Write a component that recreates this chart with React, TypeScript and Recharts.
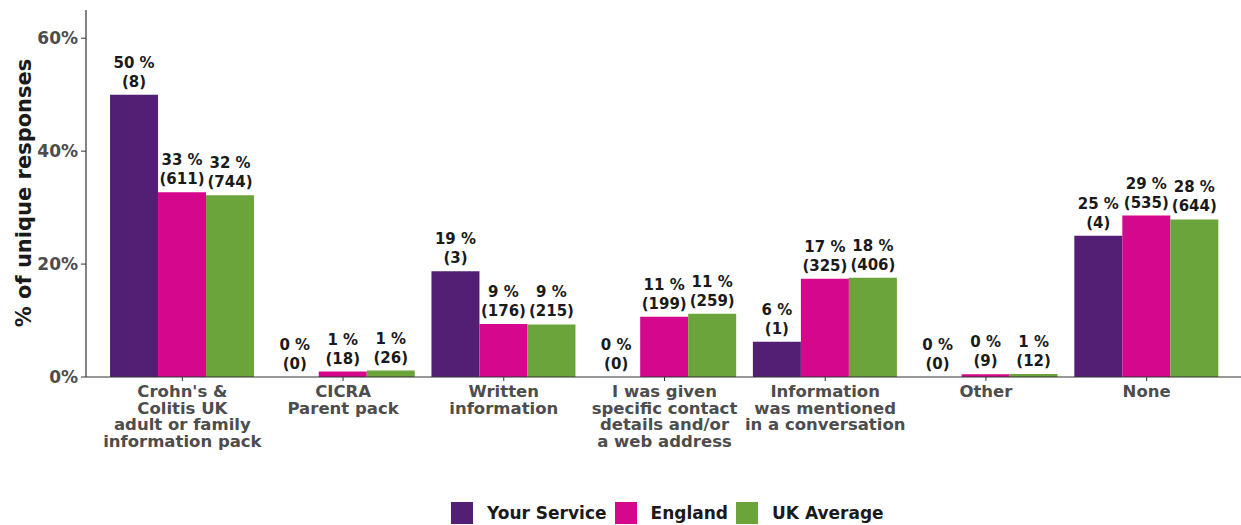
import React from "react";
import { BarChart, Bar, XAxis, YAxis, Legend, LabelList } from "recharts";

const categories = [
  "Crohn's &\nColitis UK\nadult or family\ninformation pack",
  "CICRA\nParent pack",
  "Written\ninformation",
  "I was given\nspecific contact\ndetails and/or\na web address",
  "Information\nwas mentioned\nin a conversation",
  "Other",
  "None",
];

const yourServicePct = [50, 0, 18.75, 0, 6.25, 0, 25];
const yourServiceN = [8, 0, 3, 0, 1, 0, 4];
const englandPct = [32.7, 0.96, 9.4, 10.65, 17.4, 0.48, 28.6];
const englandN = [611, 18, 176, 199, 325, 9, 535];
const ukPct = [32.2, 1.13, 9.3, 11.2, 17.6, 0.52, 27.9];
const ukN = [744, 26, 215, 259, 406, 12, 644];

const yTicks = [0, 20, 40, 60];

const PURPLE = "#521f75";
const PINK = "#d5078c";
const GREEN = "#6ba43a";
const FONT = "DejaVu Sans";

const data = categories.map((c, i) => ({
  category: c,
  yours: yourServicePct[i],
  yoursN: yourServiceN[i],
  england: englandPct[i],
  englandN: englandN[i],
  uk: ukPct[i],
  ukN: ukN[i],
}));

// two-line label above each bar: "NN %" then "(count)"
const PctLabel = (props: any) => {
  const { x, y, width, value } = props;
  return (
    <text x={x + width / 2} y={y - 27} textAnchor="middle" fontFamily={FONT} fontWeight="bold" fontSize={15} fill="#1a1a1a">
      {`${Math.round(value)} %`}
    </text>
  );
};

const CountLabel = (props: any) => {
  const { x, y, width, value } = props;
  return (
    <text x={x + width / 2} y={y - 8} textAnchor="middle" fontFamily={FONT} fontWeight="bold" fontSize={15} fill="#1a1a1a">
      {`(${value})`}
    </text>
  );
};

const XTick = (props: any) => {
  const { x, y, payload } = props;
  const lines = String(payload.value).split("\n");
  return (
    <text x={x} y={y} textAnchor="middle" fontFamily={FONT} fontWeight="bold" fontSize={16.5} fill="#4d4d4d">
      {lines.map((l, i) => (
        <tspan key={i} x={x} dy={i === 0 ? 14 : 16.7}>
          {l}
        </tspan>
      ))}
    </text>
  );
};

const legendItems = [
  { name: "Your Service", color: PURPLE },
  { name: "England", color: PINK },
  { name: "UK Average", color: GREEN },
];

const LegendContent = () => (
  <div style={{ display: "flex", alignItems: "center", paddingLeft: 451, height: 24 }}>
    {legendItems.map((it) => (
      <div key={it.name} style={{ display: "flex", alignItems: "center", marginRight: 8 }}>
        <div style={{ width: 22, height: 22, background: it.color, marginRight: 14 }} />
        <span style={{ fontFamily: FONT, fontWeight: "bold", fontSize: 17, color: "#1a1a1a" }}>{it.name}</span>
      </div>
    ))}
  </div>
);

export default function App() {
  return (
    <div style={{ position: "absolute", left: 0, top: 0, width: 1241, height: 525, overflow: "hidden", background: "#fff" }}>
      <BarChart
        width={1243}
        height={525}
        data={data}
        margin={{ top: 10, right: 0, bottom: 0, left: 0 }}
        barCategoryGap="5%"
        barGap={0}
      >
        <XAxis
          dataKey="category"
          interval={0}
          height={124}
          padding={{ left: 16, right: 16 }}
          axisLine={{ stroke: "#333", strokeWidth: 1.2 }}
          tickLine={{ stroke: "#333" }}
          tickSize={4}
          tickMargin={2}
          tick={<XTick />}
        />
        <YAxis
          width={86}
          domain={[0, 65]}
          ticks={yTicks}
          tickFormatter={(v) => `${v}%`}
          axisLine={{ stroke: "#333", strokeWidth: 1.2 }}
          tickLine={{ stroke: "#333" }}
          tickSize={5}
          tickMargin={3}
          tick={{ fill: "#4d4d4d", fontSize: 17, fontWeight: "bold", fontFamily: FONT }}
          label={{
            content: () => (
              <text
                x={31}
                y={193}
                transform="rotate(-90 31 193)"
                textAnchor="middle"
                fontFamily={FONT}
                fontWeight="bold"
                fontSize={21}
                fill="#1a1a1a"
              >
                % of unique responses
              </text>
            ),
          }}
        />
        <Legend
          verticalAlign="bottom"
          wrapperStyle={{ left: 0, width: 1243 }}
          content={<LegendContent />}
        />
        <Bar dataKey="yours" name="Your Service" fill={PURPLE} isAnimationActive={false} minPointSize={0.01}>
          <LabelList dataKey="yours" content={<PctLabel />} />
          <LabelList dataKey="yoursN" content={<CountLabel />} />
        </Bar>
        <Bar dataKey="england" name="England" fill={PINK} isAnimationActive={false} minPointSize={0.01}>
          <LabelList dataKey="england" content={<PctLabel />} />
          <LabelList dataKey="englandN" content={<CountLabel />} />
        </Bar>
        <Bar dataKey="uk" name="UK Average" fill={GREEN} isAnimationActive={false} minPointSize={0.01}>
          <LabelList dataKey="uk" content={<PctLabel />} />
          <LabelList dataKey="ukN" content={<CountLabel />} />
        </Bar>
      </BarChart>
    </div>
  );
}
